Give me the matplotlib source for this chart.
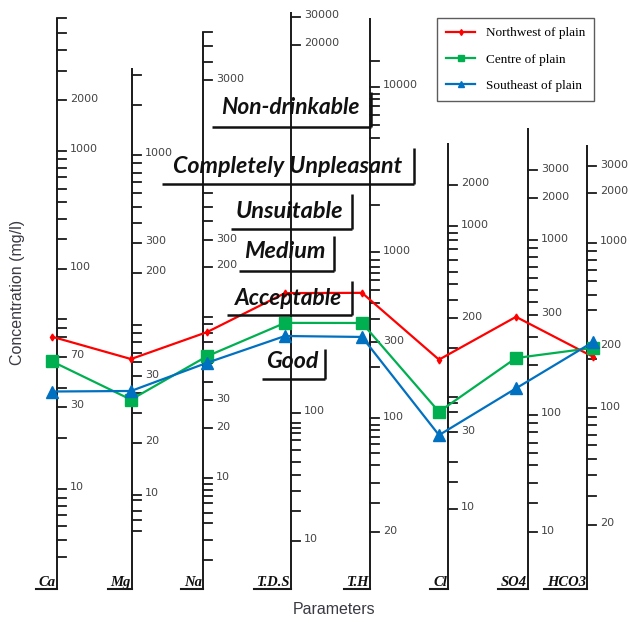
import numpy as np
import matplotlib
matplotlib.use("Agg")
import matplotlib.pyplot as plt
from matplotlib.lines import Line2D

# ---------------- data ----------------
parameters = ["Ca", "Mg", "Na", "T.D.S", "T.H", "Cl", "SO4", "HCO3"]
northwest = [76, 41, 79, 562, 579, 100, 294, 179]
centre = [65, 26, 56, 366, 387, 42, 187, 198]
southeast = [39, 27.4, 51, 303, 321, 28.7, 134, 216]
series_names = ["Northwest of plain", "Centre of plain", "Southeast of plain"]

# labelled ticks of each parameter scale
tick_values = [
    [2000, 1000, 100, 70, 30, 10],
    [1000, 300, 200, 30, 20, 10],
    [3000, 300, 200, 30, 20, 10],
    [30000, 20000, 100, 10],
    [10000, 1000, 300, 100, 20],
    [2000, 1000, 200, 30, 10],
    [3000, 2000, 1000, 300, 100, 10],
    [3000, 2000, 1000, 200, 100, 20],
]
quality_classes = ["Non-drinkable", "Completely Unpleasant", "Unsuitable",
                   "Medium", "Acceptable", "Good"]

# ---------------- layout (pixel space) ----------------
W, H = 629, 623
axis_x = [57, 132, 203, 291, 370, 448, 528, 587]
axis_top = [18, 68, 32, 12, 18, 143, 128, 145]
axis_bottom = 590
marker_x = [52, 131, 207, 285, 362, 439, 516, 593]
tick_label_pos = [
    [100, 151, 269, 357, 407, 489],
    [155, 243, 273, 376, 443, 495],
    [80, 240, 267, 400, 428, 478],
    [17, 45, 413, 541],
    [87, 252, 342, 418, 532],
    [185, 226, 318, 432, 509],
    [170, 198, 240, 315, 415, 532],
    [166, 193, 243, 347, 408, 525],
]
minor_ticks = [
    [18, 33, 50, 71, 159, 168, 177, 189, 202, 219, 239, 319, 328, 337, 388, 438,
     498, 506, 515, 526, 540, 557],
    [75, 105, 163, 173, 182, 193, 207, 223, 325, 333, 342, 353, 362, 393, 413,
     500, 511, 520, 531],
    [32, 46, 62, 193, 207, 221, 317, 324, 333, 342, 357, 363, 382, 484, 490,
     496, 503, 513, 523, 540, 560],
    [423, 428, 433, 440, 450, 462, 475, 491, 511],
    [61, 94, 99, 106, 115, 125, 138, 205, 260, 267, 273, 280, 290, 303, 319,
     367, 425, 430, 437, 444, 453, 465, 483, 503],
    [233, 240, 249, 260, 272, 284, 300, 348, 397, 403, 412, 462, 482],
    [248, 257, 267, 278, 290, 302, 337, 365, 423, 432, 443, 453, 465, 483, 503],
    [251, 260, 270, 281, 295, 310, 359, 417, 425, 435, 445, 459, 475, 496],
]
# quality boxes: text x0, baseline, target width, underline x0, x1, y, bracket top
quality_layout = [
    (217, 114, 146, 212, 371, 127, 92),
    (167, 173, 242, 162, 414, 184, 148),
    (233, 218, 113, 231, 352, 229, 194),
    (242, 258, 86, 239, 334, 271, 236),
    (232, 305, 113, 227, 352, 315, 281),
    (265, 368, 55, 262, 325, 379, 349),
]

fig = plt.figure(figsize=(W / 100, H / 100), dpi=100)
ax = fig.add_axes([0, 0, 1, 1])
ax.set_xlim(0, W)
ax.set_ylim(H, 0)
ax.axis("off")


def to_y(i, v):
    lv = np.log10(np.array(tick_values[i], float))[::-1]
    ys = np.array(tick_label_pos[i], float)[::-1]
    return np.interp(np.log10(v), lv, ys)


axc = "#1a1a1a"
tick_len = 9
for i, x in enumerate(axis_x):
    ax.plot([x, x], [axis_top[i], axis_bottom], color=axc, lw=1.4,
            solid_capstyle="butt", zorder=2)
    for y in minor_ticks[i] + tick_label_pos[i]:
        ax.plot([x, x + tick_len], [y, y], color=axc, lw=1.3, zorder=2)
    for v, y in zip(tick_values[i], tick_label_pos[i]):
        ax.text(x + 13, y - 1.5, str(v), fontsize=8, color="#444444",
                va="center", ha="left", family="DejaVu Sans", zorder=3)

# series lines
colors = ["#FF0000", "#00B050", "#0070C0"]
markers = ["d", "s", "^"]
msizes = [3.5, 8, 8]
for vals, c, m, ms in zip([northwest, centre, southeast], colors, markers, msizes):
    ys = [to_y(i, v) for i, v in enumerate(vals)]
    ax.plot(marker_x, ys, color=c, lw=1.6, marker=m, ms=ms,
            markeredgecolor=c, zorder=5)

# parameter labels at the bottom
fig.canvas.draw()
rend = fig.canvas.get_renderer()
inv = ax.transData.inverted()
for i, p in enumerate(parameters):
    t = ax.text(axis_x[i] - 1, 586, p, fontsize=10.5, fontweight="bold",
                fontstyle="italic", family="Liberation Serif",
                ha="right", va="baseline", color="#111111", zorder=4)
    bb = t.get_window_extent(rend)
    x0 = inv.transform((bb.x0, bb.y0))[0]
    ax.plot([x0 - 3, axis_x[i]], [589, 589], color=axc, lw=1.5, zorder=4)

# quality classes
for name, (tx, ty, tw, ux0, ux1, uy, vt) in zip(quality_classes, quality_layout):
    fs = 15
    t = ax.text(tx + tw / 2, ty, name, fontsize=fs, fontweight="bold",
                fontstyle="italic", family=["Lato", "DejaVu Sans"],
                ha="center", va="baseline", color="#111111", zorder=6)
    bb = t.get_window_extent(rend)
    t.set_fontsize(0.95 * fs * tw / bb.width)
    ax.plot([ux0, ux1], [uy, uy], color="#111111", lw=1.8, zorder=6,
            solid_capstyle="butt")
    ax.plot([ux1, ux1], [vt, uy], color="#111111", lw=1.8, zorder=6,
            solid_capstyle="butt")

# axis titles
ax.text(18, 292, "Concentration (mg/l)", rotation=90, fontsize=11.5,
        family="Liberation Sans", color="#3a3a44", ha="center", va="center")
ax.text(334, 610, "Parameters", fontsize=11.5, family="Liberation Sans",
        color="#3a3a44", ha="center", va="center")

# legend
handles = [Line2D([], [], color=c, lw=1.6, marker=m, ms=s)
           for c, m, s in zip(colors, markers, [3, 4, 4])]
leg = ax.legend(handles, series_names, loc="upper left",
                bbox_to_anchor=(437 / W, 1 - 18 / H), bbox_transform=fig.transFigure,
                frameon=True, fancybox=False, edgecolor="#333333",
                prop={"family": "Liberation Serif", "size": 9.5},
                labelspacing=1.05, handlelength=2.2, handletextpad=0.8,
                borderpad=0.7, borderaxespad=0)
leg.get_frame().set_linewidth(1.0)
leg.set_zorder(7)

fig.savefig("out.png", dpi=100)
